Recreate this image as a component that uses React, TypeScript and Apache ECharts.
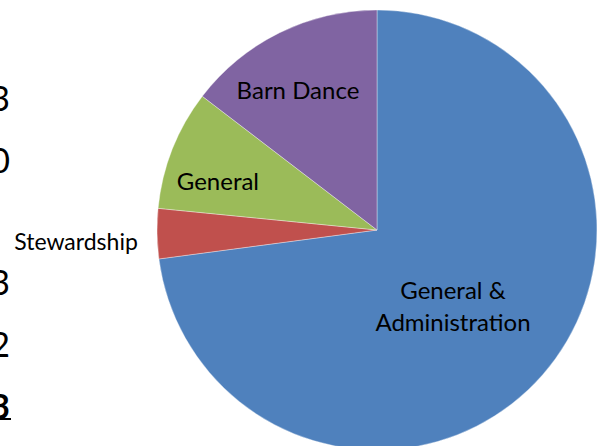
import React, { useEffect, useRef } from "react";
import * as echarts from "echarts";

const categories = ["General &\nAdministration", "Stewardship", "General", "Barn Dance"];
const values = [72.9, 3.67, 8.83, 14.6];
const colors = ["#4F81BD", "#C0504D", "#9BBB59", "#8064A2"];
const labelOffsets: number[][] = [[-9, 1], [-188, 9], [-54, -8], [-29, -39]];
const labelSizes = [24, 23, 24, 24];
const sideDigits = ["3", "0", "3", "2", "3"];
const sideDigitRows = [97, 159, 281, 343, 405];

export default function App() {
  const ref = useRef<HTMLDivElement>(null);
  useEffect(() => {
    if (!ref.current) return;
    const chart = echarts.init(ref.current, undefined, { renderer: "svg" });
    const font = "Lato, 'Open Sans', sans-serif";
    const graphics: any[] = sideDigits.map((d, i) => ({
      type: "text",
      x: 10,
      y: sideDigitRows[i],
      style: {
        text: d,
        fill: "#000",
        font: `${i === sideDigits.length - 1 ? "bold " : ""}34px ${font}`,
        align: "right",
        verticalAlign: "middle",
      },
    }));
    graphics.push({
      type: "rect",
      shape: { x: 0, y: 418, width: 11, height: 2 },
      style: { fill: "#000" },
    });
    chart.setOption({
      animation: false,
      backgroundColor: "#fff",
      graphic: graphics,
      series: [
        {
          type: "pie",
          center: [377, 230],
          radius: [0, 220],
          startAngle: 90,
          clockwise: true,
          avoidLabelOverlap: false,
          labelLine: { show: false },
          itemStyle: { borderColor: "rgba(255,255,255,0.6)", borderWidth: 0.6 },
          data: categories.map((name, i) => ({
            name,
            value: values[i],
            itemStyle: { color: colors[i] },
            label: {
              show: true,
              position: "inside",
              offset: labelOffsets[i],
              color: "#000",
              fontFamily: font,
              fontSize: labelSizes[i],
              lineHeight: 32,
              formatter: "{b}",
            },
          })),
        },
      ],
    });
    return () => chart.dispose();
  }, []);
  return (
    <div
      ref={ref}
      style={{ position: "fixed", left: 0, top: 0, width: 598, height: 446 }}
    />
  );
}
